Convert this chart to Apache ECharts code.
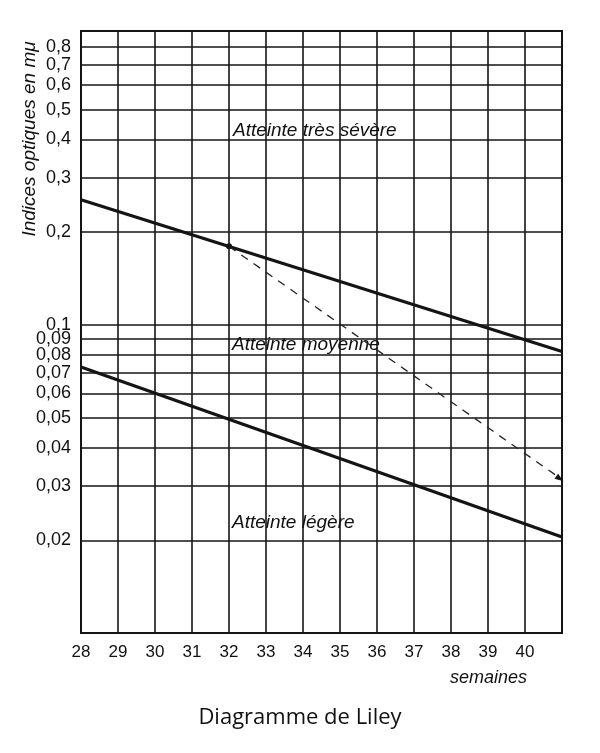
<!DOCTYPE html>
<html>
<head>
<meta charset="utf-8">
<script src="https://cdn.jsdelivr.net/npm/echarts@6/dist/echarts.min.js"></script>
<style>
html,body{margin:0;padding:0;background:#fff;}
#chart{width:600px;height:753px;}
</style>
</head>
<body>
<div id="chart"></div>
<script>
// ---- data ----
var weekMin = 28;
var weekMax = 41;
var xTickLabels = ['28','29','30','31','32','33','34','35','36','37','38','39','40'];
var yTickValues = [0.02,0.03,0.04,0.05,0.06,0.07,0.08,0.09,0.1,0.2,0.3,0.4,0.5,0.6,0.7,0.8];
var yTickLabels = ['0,02','0,03','0,04','0,05','0,06','0,07','0,08','0,09','0,1','0,2','0,3','0,4','0,5','0,6','0,7','0,8'];
var severeLimit = [[28, 0.255], [41, 0.082]];
var mildLimit = [[28, 0.073], [41, 0.0205]];
var dashedPath = [[32, 0.18], [41, 0.0315]];
var zoneLabels = ['Atteinte très sévère', 'Atteinte moyenne', 'Atteinte légère'];

var chart = echarts.init(document.getElementById('chart'), null, {renderer: 'canvas'});
var dark = '#141414';
var arrowHead = 'path://M10.2,8.57L0,5.74L4,0Z';

var gridLines = yTickValues.map(function (v, i) {
  return { yAxis: v, label: { formatter: yTickLabels[i] } };
});

var dashedData = dashedPath.map(function (p, i) {
  if (i === 0) return { value: p, symbol: 'circle', symbolSize: 6 };
  return { value: p, symbol: arrowHead, symbolSize: 9, symbolOffset: [-3, -2] };
});

var option = {
  backgroundColor: '#ffffff',
  animation: false,
  grid: {
    left: 81, right: 38, top: 31, bottom: 120,
    show: true, borderColor: dark, borderWidth: 2, backgroundColor: 'transparent'
  },
  xAxis: {
    type: 'value', min: weekMin, max: weekMax, interval: 1,
    axisLine: { show: true, lineStyle: { color: dark, width: 2 } },
    axisTick: { show: false },
    splitLine: { show: true, lineStyle: { color: dark, width: 1.6 } },
    axisLabel: {
      margin: 11, fontSize: 17, color: '#111', fontFamily: 'Liberation Sans, Arial, sans-serif',
      formatter: function (v) {
        var idx = v - weekMin;
        return xTickLabels[idx] !== undefined ? xTickLabels[idx] : '';
      }
    }
  },
  yAxis: {
    type: 'log', logBase: 10, min: 0.01, max: 0.9,
    axisLine: { show: true, lineStyle: { color: dark, width: 2 } },
    axisTick: { show: false },
    axisLabel: { show: false },
    splitLine: { show: false },
    minorSplitLine: { show: false }
  },
  series: [
    {
      type: 'line', data: severeLimit, symbol: 'none',
      lineStyle: { color: dark, width: 3.2 }, z: 5,
      markLine: {
        silent: true, symbol: ['none', 'none'], animation: false,
        lineStyle: { color: dark, width: 1.6, type: 'solid' },
        label: {
          show: true, position: 'start', distance: 10,
          fontSize: 18, color: '#111', fontFamily: 'Liberation Sans, Arial, sans-serif'
        },
        emphasis: { disabled: true },
        data: gridLines
      }
    },
    {
      type: 'line', data: mildLimit, symbol: 'none',
      lineStyle: { color: dark, width: 3.2 }, z: 5
    },
    {
      type: 'line', data: dashedData, showSymbol: true, symbolKeepAspect: true,
      itemStyle: { color: dark },
      lineStyle: { color: '#222', width: 1.3, type: [8, 7] }, z: 6
    }
  ],
  graphic: [
    { type: 'text', x: 30, y: 139, rotation: Math.PI / 2,
      style: { text: 'Indices optiques en mμ', font: 'italic 19px "Liberation Sans", Arial, sans-serif',
        fill: '#111', align: 'center', verticalAlign: 'middle', textAlign: 'center', textVerticalAlign: 'middle' } },
    { type: 'text', x: 233, y: 131,
      style: { text: zoneLabels[0], font: 'italic 19px "Liberation Sans", Arial, sans-serif',
        fill: '#111', align: 'left', verticalAlign: 'middle', textAlign: 'left', textVerticalAlign: 'middle' } },
    { type: 'text', x: 232, y: 345,
      style: { text: zoneLabels[1], font: 'italic 19px "Liberation Sans", Arial, sans-serif',
        fill: '#111', align: 'left', verticalAlign: 'middle', textAlign: 'left', textVerticalAlign: 'middle' } },
    { type: 'text', x: 232, y: 523,
      style: { text: zoneLabels[2], font: 'italic 19px "Liberation Sans", Arial, sans-serif',
        fill: '#111', align: 'left', verticalAlign: 'middle', textAlign: 'left', textVerticalAlign: 'middle' } },
    { type: 'text', x: 450, y: 678,
      style: { text: 'semaines', font: 'italic 18px "Liberation Sans", Arial, sans-serif',
        fill: '#111', align: 'left', verticalAlign: 'middle', textAlign: 'left', textVerticalAlign: 'middle' } },
    { type: 'text', x: 300, y: 718,
      style: { text: 'Diagramme de Liley', font: '22px "Open Sans", "Noto Sans", sans-serif',
        fill: '#111', align: 'center', verticalAlign: 'middle', textAlign: 'center', textVerticalAlign: 'middle' } }
  ]
};
chart.setOption(option);
</script>
</body>
</html>
